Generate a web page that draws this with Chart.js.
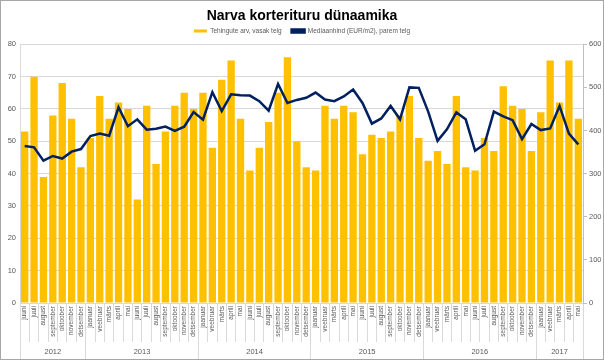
<!DOCTYPE html>
<html>
<head>
<meta charset="utf-8">
<script src="https://cdn.jsdelivr.net/npm/chart.js@4.4.1/dist/chart.umd.min.js"></script>
<style>
  html, body { margin: 0; padding: 0; background: #fff; }
  #wrap { width: 602px; height: 358px; border: 1px solid #a6a6a6; }
  canvas { display: block; }
</style>
</head>
<body>
<div id="wrap"><canvas id="c" width="602" height="358"></canvas></div>
<script>
const months = [
  'juuni','juuli','august','september','oktoober','november','detsember',
  'jaanuar','veebruar','märts','aprill','mai','juuni','juuli','august','september','oktoober','november','detsember',
  'jaanuar','veebruar','märts','aprill','mai','juuni','juuli','august','september','oktoober','november','detsember',
  'jaanuar','veebruar','märts','aprill','mai','juuni','juuli','august','september','oktoober','november','detsember',
  'jaanuar','veebruar','märts','aprill','mai','juuni','juuli','august','september','oktoober','november','detsember',
  'jaanuar','veebruar','märts','aprill','mai'
];
const years = ['2012','2013','2014','2015','2016','2017'];
const monthsPerYear = [7, 12, 12, 12, 12, 5];
const tehingud = [
  53,70,39,58,68,57,42,
  51,64,57,62,60,32,61,43,53,61,65,60,
  65,48,69,75,57,41,48,56,65,76,50,42,
  41,61,57,61,59,46,52,51,53,58,64,51,
  44,47,43,64,42,41,51,47,67,61,60,47,
  59,75,62,75,57
];
const mediaanhind = [
  364,361,330,341,335,351,357,
  387,393,388,454,410,426,402,404,409,399,409,443,
  425,489,445,484,482,481,468,446,508,464,471,476,
  488,472,468,479,495,464,416,428,457,426,500,499,
  444,376,403,442,426,353,368,444,433,424,380,415,
  401,405,457,393,368
];

// year axis tick positions (boundaries and centers) built from monthsPerYear
const yearTicks = [];
let start = -0.5;
monthsPerYear.forEach((n, i) => {
  yearTicks.push({ value: start, label: '', boundary: true });
  yearTicks.push({ value: start + n / 2, label: years[i], boundary: false });
  start += n;
});
yearTicks.push({ value: start, label: '', boundary: true });

const FONT = "'Liberation Sans', Arial, sans-serif";
const TXT = '#595959';
const GRID = '#d9d9d9';

new Chart(document.getElementById('c'), {
  data: {
    labels: months,
    datasets: [
      {
        type: 'bar',
        label: 'Tehingute arv, vasak telg',
        data: tehingud,
        backgroundColor: '#FFC000',
        borderWidth: 0,
        barPercentage: 0.78,
        categoryPercentage: 1.0,
        yAxisID: 'y',
        xAxisID: 'x',
        order: 2
      },
      {
        type: 'line',
        label: 'Mediaanhind (EUR/m2), parem telg',
        data: mediaanhind,
        borderColor: '#002060',
        backgroundColor: '#002060',
        borderWidth: 2.5,
        pointRadius: 0,
        tension: 0,
        yAxisID: 'y1',
        xAxisID: 'x',
        order: 1
      }
    ]
  },
  options: {
    responsive: false,
    animation: false,
    devicePixelRatio: 1,
    layout: { padding: 0 },
    plugins: {
      title: {
        display: true,
        text: 'Narva korterituru dünaamika',
        color: '#000',
        font: { family: FONT, size: 14, weight: 'bold' },
        padding: { top: 7, bottom: -7 }
      },
      legend: {
        display: true,
        position: 'top',
        labels: {
          color: TXT,
          font: { family: FONT, size: 6.5 },
          boxWidth: 13,
          boxHeight: 3,
          padding: 10,
          sort: (a, b) => a.datasetIndex - b.datasetIndex
        }
      },
      tooltip: { enabled: false }
    },
    scales: {
      x: {
        type: 'category',
        position: 'bottom',
        offset: true,
        grid: {
          offset: true,
          drawOnChartArea: false,
          color: GRID,
          tickLength: 39
        },
        border: { display: true, color: GRID },
        ticks: {
          color: TXT,
          font: { family: FONT, size: 6.5 },
          minRotation: 90,
          maxRotation: 90,
          autoSkip: false,
          padding: -36
        },
        afterFit: (s) => { s.height = 39; }
      },
      yr: {
        type: 'linear',
        position: 'bottom',
        min: -0.5,
        max: start,
        afterBuildTicks: (s) => { s.ticks = yearTicks.map(t => ({ value: t.value })); },
        grid: {
          drawOnChartArea: false,
          tickLength: 17,
          color: (ctx) => (ctx.tick && yearTicks.find(t => t.value === ctx.tick.value && t.boundary)) ? GRID : 'rgba(0,0,0,0)'
        },
        border: { display: false },
        ticks: {
          color: TXT,
          font: { family: FONT, size: 7.5 },
          autoSkip: false,
          maxRotation: 0,
          padding: -12,
          callback: (v) => { const t = yearTicks.find(t => t.value === v); return t ? t.label : ''; }
        },
        afterFit: (s) => { s.height = 17; }
      },
      y: {
        type: 'linear',
        position: 'left',
        min: 0,
        max: 80,
        ticks: { stepSize: 10, color: TXT, font: { family: FONT, size: 7.5 }, padding: 4 },
        grid: { color: GRID, drawTicks: false },
        border: { display: true, color: GRID },
        afterFit: (s) => { s.width = 19; }
      },
      y1: {
        type: 'linear',
        position: 'right',
        min: 0,
        max: 600,
        ticks: { stepSize: 100, color: TXT, font: { family: FONT, size: 7.5 }, padding: 2 },
        grid: { drawOnChartArea: false, color: '#bfbfbf', tickLength: 4 },
        border: { display: true, color: '#bfbfbf' },
        afterFit: (s) => { s.width = 20; }
      }
    }
  }
});
</script>
</body>
</html>
